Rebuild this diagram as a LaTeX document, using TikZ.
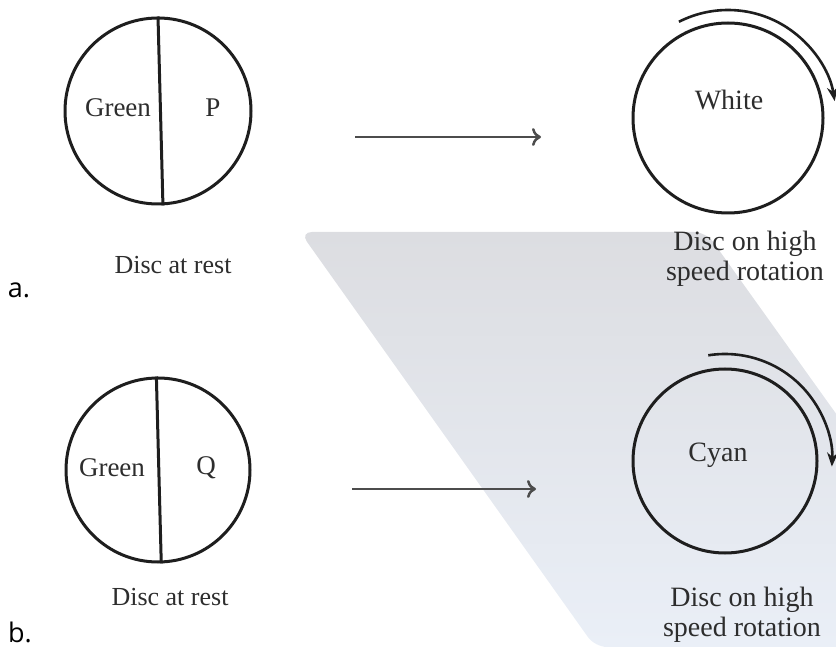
\documentclass[tikz,border=0pt]{standalone}
\usepackage{fontspec}
\setmainfont{Liberation Serif}
\newfontfamily\partfont{Open Sans}
\usetikzlibrary{arrows.meta}
\definecolor{ink}{RGB}{30,30,30}
\definecolor{textgrey}{RGB}{45,45,45}
\definecolor{bandtop}{RGB}{220,221,225}
\definecolor{bandbot}{RGB}{234,239,247}
\tikzset{
  disc/.style={circle, draw=ink, line width=3pt, minimum size=#1, inner sep=0pt},
  divider/.style={draw=ink, line width=3pt},
  lbl/.style={text=textgrey, inner sep=0pt, font=\fontsize{27}{30}\selectfont},
  restlbl/.style={text=textgrey, inner sep=0pt, font=\fontsize{26}{30}\selectfont},
  spinlbl/.style={text=textgrey, inner sep=0pt, align=center, font=\fontsize{28}{30}\selectfont},
  partlbl/.style={text=black, inner sep=0pt, font=\partfont\fontsize{27}{30}\selectfont},
  flow/.style={draw=black!70, line width=2.5pt, -{To[length=9pt,width=18pt]}},
  spin/.style={draw=ink, line width=2.6pt, -{Stealth[length=14pt,width=11pt]}}
}
\begin{document}
\begin{tikzpicture}[x=1pt,y=1pt]
\useasboundingbox (0,0) rectangle (836,-647);

% shaded slanted band behind the right-hand column
\begin{scope}
  \clip (0,0) rectangle (836,-647);
  \shade[top color=bandtop, bottom color=bandbot, rounded corners=12pt]
    (595,-647) -- (300,-232) -- (706,-232) -- (1003,-647) -- cycle;
\end{scope}

% ---- row a ----
\node[disc=186pt] (dA) at (158,-111) {};
\draw[divider] (dA.90) -- (dA.-87);
\node[lbl] (gA) at (118,-108) {Green};
\node[lbl] (pA) at (213,-108) {P};
\node[restlbl] (rA) at (173,-265) {Disc at rest};
\node[partlbl] (la) at (19,-290) {a.};

\coordinate (fAs) at (355,-137);
\coordinate (fAe) at (541,-137);
\draw[flow] (fAs) -- (fAe);

\node[disc=190pt] (dC) at (728,-118) {};
\node[lbl, font=\fontsize{28}{30}\selectfont] (wC) at (729,-100) {White};
\draw[spin] ([shift={(117:108)}]dC.center) arc[start angle=117, end angle=9, radius=108];
\node[spinlbl] (sC) at (745,-259) {Disc on high\\speed rotation};

% ---- row b ----
\node[disc=184pt] (dB) at (158,-470) {};
\draw[divider] (dB.91) -- (dB.-88);
\node[lbl] (gB) at (112,-468) {Green};
\node[lbl] (qB) at (206,-468) {Q};
\node[restlbl] (rB) at (170,-597) {Disc at rest};
\node[partlbl] (lb) at (20,-632) {b.};

\coordinate (fBs) at (352,-489);
\coordinate (fBe) at (536,-489);
\draw[flow] (fBs) -- (fBe);

\node[disc=184pt] (dD) at (725,-461) {};
\node[lbl, font=\fontsize{28}{30}\selectfont] (cD) at (718,-455) {Cyan};
\draw[spin] ([shift={(99:107)}]dD.center) arc[start angle=99, end angle=-3, radius=107];
\node[spinlbl] (sD) at (742,-615) {Disc on high\\speed rotation};
\end{tikzpicture}
\end{document}
